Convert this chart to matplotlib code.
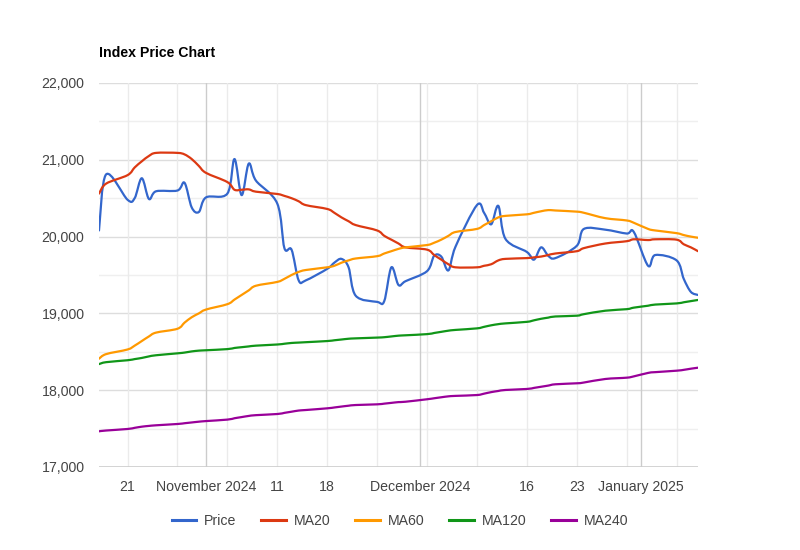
import numpy as np
import pandas as pd
import matplotlib
matplotlib.use("Agg")
import matplotlib.pyplot as plt
import matplotlib.dates as mdates
from matplotlib.path import Path
from matplotlib.patches import PathPatch
from matplotlib.lines import Line2D

plt.rcParams['font.family'] = ['Liberation Sans', 'DejaVu Sans']

# trading days shown in the chart
dates = pd.to_datetime([
    "2024-10-17", "2024-10-18", "2024-10-21", "2024-10-22", "2024-10-23", "2024-10-24", "2024-10-25",
    "2024-10-28", "2024-10-29", "2024-10-30", "2024-10-31", "2024-11-01",
    "2024-11-04", "2024-11-05", "2024-11-06", "2024-11-07", "2024-11-08",
    "2024-11-11", "2024-11-12", "2024-11-13", "2024-11-14", "2024-11-15",
    "2024-11-18", "2024-11-19", "2024-11-20", "2024-11-21", "2024-11-22",
    "2024-11-25", "2024-11-26", "2024-11-27", "2024-11-28", "2024-11-29",
    "2024-12-02", "2024-12-03", "2024-12-04", "2024-12-05", "2024-12-06",
    "2024-12-09", "2024-12-10", "2024-12-11", "2024-12-12", "2024-12-13",
    "2024-12-16", "2024-12-17", "2024-12-18", "2024-12-19", "2024-12-20",
    "2024-12-23", "2024-12-24", "2024-12-27",
    "2024-12-30", "2024-12-31", "2025-01-02", "2025-01-03",
    "2025-01-06", "2025-01-07", "2025-01-08", "2025-01-09",
])

price = [
    20080, 20810, 20480, 20500, 20760, 20490, 20590,
    20600, 20700, 20380, 20320, 20510,
    20560, 21010, 20540, 20950, 20730,
    20430, 19850, 19830, 19430, 19430,
    19580, 19660, 19710, 19600, 19230,
    19150, 19160, 19600, 19370, 19420,
    19550, 19750, 19740, 19560, 19870,
    20410, 20310, 20160, 20400, 19970,
    19800, 19700, 19860, 19750, 19720,
    19880, 20100, 20090,
    20040, 20060, 19620, 19760,
    19690, 19450, 19280, 19240,
]

ma20 = [
    20560, 20690, 20800, 20900, 20980, 21050, 21090,
    21090, 21070, 21010, 20920, 20830,
    20710, 20610, 20610, 20615, 20585,
    20555, 20530, 20500, 20460, 20410,
    20360, 20310, 20250, 20200, 20150,
    20080, 20010, 19960, 19910, 19860,
    19830, 19760, 19700, 19640, 19600,
    19600, 19620, 19640, 19690, 19710,
    19720, 19730, 19740, 19760, 19780,
    19810, 19850, 19910,
    19940, 19965, 19955, 19965,
    19960, 19900, 19860, 19810,
]

ma60 = [
    18410, 18470, 18530, 18580, 18640, 18700, 18750,
    18800, 18880, 18950, 19000, 19050,
    19120, 19180, 19240, 19300, 19360,
    19410, 19450, 19500, 19540, 19565,
    19600, 19620, 19660, 19690, 19715,
    19745, 19780, 19810, 19840, 19860,
    19890, 19920, 19960, 20010, 20060,
    20100, 20150, 20200, 20250, 20270,
    20290, 20310, 20330, 20345, 20340,
    20325, 20310, 20240,
    20210, 20180, 20100, 20080,
    20045, 20020, 20000, 19985,
]

ma120 = [
    18340, 18365, 18390, 18405, 18420, 18440, 18455,
    18480, 18490, 18505, 18515, 18520,
    18535, 18550, 18560, 18570, 18580,
    18595, 18605, 18615, 18620, 18625,
    18640, 18650, 18660, 18670, 18675,
    18685, 18690, 18700, 18710, 18715,
    18730, 18745, 18760, 18775, 18785,
    18805, 18825, 18845, 18860, 18870,
    18890, 18910, 18930, 18945, 18960,
    18970, 18990, 19035,
    19055, 19075, 19100, 19115,
    19130, 19145, 19160, 19175,
]

ma240 = [
    17465, 17475, 17495, 17510, 17525, 17535, 17543,
    17560, 17570, 17580, 17590, 17598,
    17617, 17635, 17650, 17665, 17675,
    17690, 17705, 17720, 17735, 17742,
    17764, 17775, 17787, 17798, 17807,
    17816, 17825, 17835, 17845, 17850,
    17882, 17895, 17908, 17920, 17926,
    17937, 17955, 17975, 17990, 18003,
    18016, 18030, 18045, 18060, 18077,
    18090, 18100, 18146,
    18163, 18180, 18225, 18235,
    18254, 18265, 18280, 18293,
]

series_names = ["Price", "MA20", "MA60", "MA120", "MA240"]
series_values = [price, ma20, ma60, ma120, ma240]
colors = ["#3366cc", "#dc3912", "#ff9900", "#109618", "#990099"]

tick_dates = pd.to_datetime(["2024-10-21", "2024-11-01", "2024-11-11", "2024-11-18",
                             "2024-12-01", "2024-12-16", "2024-12-23", "2025-01-01"])
tick_labels = ["21", "November 2024", "11", "18", "December 2024", "16", "23", "January 2025"]
month_starts = pd.to_datetime(["2024-11-01", "2024-12-01", "2025-01-01"])
week_lines = pd.date_range("2024-10-21", "2025-01-06", freq="7D")


def smooth_path(x, y):
    # cubic bezier through every point (like curveType 'function')
    verts = [(x[0], y[0])]
    codes = [Path.MOVETO]
    n = len(x)
    for i in range(n - 1):
        xp, yp = (x[i - 1], y[i - 1]) if i > 0 else (x[i], y[i])
        xn, yn = (x[i + 2], y[i + 2]) if i < n - 2 else (x[i + 1], y[i + 1])
        c1 = (x[i] + (x[i + 1] - xp) / 6, y[i] + (y[i + 1] - yp) / 6)
        c2 = (x[i + 1] - (xn - x[i]) / 6, y[i + 1] - (yn - y[i]) / 6)
        verts += [c1, c2, (x[i + 1], y[i + 1])]
        codes += [Path.CURVE4] * 3
    return Path(verts, codes)


fig = plt.figure(figsize=(8, 5.5), dpi=100)
ax = fig.add_axes([99 / 800, 1 - 467 / 550, 599 / 800, 384 / 550])

xnum = mdates.date2num(dates)

# grid
for v in np.arange(17500, 22000, 1000):
    ax.axhline(v, color="#efefef", lw=1, zorder=0)
for v in np.arange(18000, 22001, 1000):
    ax.axhline(v, color="#dddddd", lw=1, zorder=0)
for d in week_lines:
    ax.axvline(mdates.date2num(d), color="#ebebeb", lw=1, zorder=0)
for d in month_starts:
    ax.axvline(mdates.date2num(d), color="#cccccc", lw=1, zorder=0)
ax.axhline(17000, color="#cccccc", lw=1.2, zorder=1)

handles = []
for name, vals, c in zip(series_names, series_values, colors):
    p = smooth_path(xnum, np.array(vals, dtype=float))
    ax.add_patch(PathPatch(p, fill=False, edgecolor=c, lw=1.6, zorder=3, capstyle="round", joinstyle="round"))
    handles.append(Line2D([], [], color=c, lw=2.2, label=name))

ax.set_xlim(xnum[0], xnum[-1])
ax.set_ylim(17000, 22000)

ax.set_xticks(mdates.date2num(tick_dates))
ax.set_xticklabels(tick_labels)
ax.set_yticks(np.arange(17000, 22001, 1000))
ax.set_yticklabels([f"{v:,}" for v in range(17000, 22001, 1000)])
ax.tick_params(axis="both", length=0, labelsize=10.2, colors="#444444")
ax.tick_params(axis="x", pad=9.5)
ax.tick_params(axis="y", pad=10.5)
for s in ax.spines.values():
    s.set_visible(False)

fig.text(99 / 800, 1 - 53 / 550, "Index Price Chart", fontsize=10.2, fontweight="bold",
         color="#000000", va="center", ha="left")

fig.legend(handles=handles, loc="center", bbox_to_anchor=(0.5, 1 - 521 / 550), ncol=5,
           frameon=False, fontsize=10.2, handlelength=1.75, columnspacing=1.75, handletextpad=0.55,
           labelcolor="#444444")

plt.savefig("out.png", dpi=100)
